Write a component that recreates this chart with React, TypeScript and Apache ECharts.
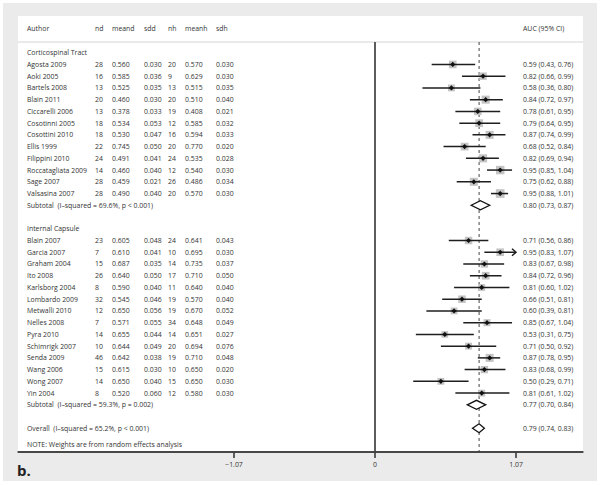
import React, { useEffect, useRef } from "react";
import * as echarts from "echarts";

// ---------- data ----------
const cstAuthors = ["Agosta 2009", "Aoki 2005", "Bartels 2008", "Blain 2011", "Ciccarelli 2006", "Cosotinni 2005", "Cosottini 2010", "Ellis 1999", "Filippini 2010", "Roccatagliata 2009", "Sage 2007", "Valsasina 2007"];
const cstNd = [28, 16, 13, 20, 13, 18, 18, 22, 24, 14, 28, 28];
const cstMeand = ["0.560", "0.585", "0.525", "0.460", "0.378", "0.534", "0.530", "0.745", "0.491", "0.460", "0.459", "0.490"];
const cstSdd = ["0.030", "0.036", "0.035", "0.030", "0.033", "0.053", "0.047", "0.050", "0.041", "0.040", "0.021", "0.040"];
const cstNh = [20, 9, 13, 20, 19, 12, 16, 20, 24, 12, 26, 20];
const cstMeanh = ["0.570", "0.629", "0.515", "0.510", "0.408", "0.585", "0.594", "0.770", "0.535", "0.540", "0.486", "0.570"];
const cstSdh = ["0.030", "0.030", "0.035", "0.040", "0.021", "0.032", "0.033", "0.020", "0.028", "0.030", "0.034", "0.030"];
const cstAuc = [0.59, 0.82, 0.58, 0.84, 0.78, 0.79, 0.87, 0.68, 0.82, 0.95, 0.75, 0.95];
const cstLo = [0.43, 0.66, 0.36, 0.72, 0.61, 0.64, 0.74, 0.52, 0.69, 0.85, 0.62, 0.88];
const cstHi = [0.76, 0.99, 0.80, 0.97, 0.95, 0.95, 0.99, 0.84, 0.94, 1.04, 0.88, 1.01];
const cstWeight = [8.0, 7.6, 6.4, 8.9, 7.8, 8.2, 8.8, 8.1, 9.0, 9.8, 8.9, 10.4];
const cstSubtotal = { label: "Subtotal  (I\u2013squared = 69.6%, p < 0.001)", est: 0.80, lo: 0.73, hi: 0.87 };

const icAuthors = ["Blain 2007", "Garcia 2007", "Graham 2004", "Ito 2008", "Karlsborg 2004", "Lombardo 2009", "Metwalli 2010", "Nelles 2008", "Pyra 2010", "Schimrigk 2007", "Senda 2009", "Wang 2006", "Wong 2007", "Yin 2004"];
const icNd = [23, 7, 15, 26, 8, 32, 12, 7, 14, 10, 46, 15, 14, 8];
const icMeand = ["0.605", "0.610", "0.687", "0.640", "0.590", "0.545", "0.650", "0.571", "0.655", "0.644", "0.642", "0.615", "0.650", "0.520"];
const icSdd = ["0.048", "0.041", "0.035", "0.050", "0.040", "0.046", "0.056", "0.055", "0.044", "0.049", "0.038", "0.030", "0.040", "0.060"];
const icNh = [24, 10, 14, 17, 11, 19, 19, 34, 14, 20, 19, 10, 15, 12];
const icMeanh = ["0.641", "0.695", "0.735", "0.710", "0.640", "0.570", "0.670", "0.648", "0.651", "0.694", "0.710", "0.650", "0.650", "0.580"];
const icSdh = ["0.043", "0.030", "0.037", "0.050", "0.040", "0.040", "0.052", "0.049", "0.027", "0.076", "0.048", "0.020", "0.030", "0.030"];
const icAuc = [0.71, 0.95, 0.83, 0.84, 0.81, 0.66, 0.60, 0.85, 0.53, 0.71, 0.87, 0.83, 0.50, 0.81];
const icLo = [0.56, 0.83, 0.67, 0.72, 0.60, 0.51, 0.39, 0.67, 0.31, 0.50, 0.78, 0.68, 0.29, 0.61];
const icHi = [0.86, 1.07, 0.98, 0.96, 1.02, 0.81, 0.81, 1.04, 0.75, 0.92, 0.95, 0.99, 0.71, 1.02];
const icWeight = [7.6, 7.9, 7.4, 8.0, 6.4, 7.8, 6.3, 6.8, 6.0, 6.6, 8.8, 7.4, 6.4, 6.4];
const icSubtotal = { label: "Subtotal  (I\u2013squared = 59.3%, p = 0.002)", est: 0.77, lo: 0.70, hi: 0.84 };

const overall = { label: "Overall  (I\u2013squared = 65.2%, p < 0.001)", est: 0.79, lo: 0.74, hi: 0.83 };

const headers = ["Author", "nd", "meand", "sdd", "nh", "meanh", "sdh"];
const aucHeader = "AUC (95% CI)";
const groupNames = ["Corticospinal Tract", "Internal Capsule"];
const note = "NOTE: Weights are from random effects analysis";
const xTicks = [-1.07, 0, 1.07];
const nullValue = 0;

// ---------- layout ----------
const PX_ZERO = 375; // page px of x = 0
const PPU = 131.78; // px per unit
const GRID_L = 18, GRID_R = 583, GRID_T = 16, GRID_B = 452;
const X_MIN = (GRID_L - PX_ZERO) / PPU;
const X_MAX = (GRID_R - PX_ZERO) / PPU;
const ROW0_Y = 52.7, ROW_H = 11.7375;
const Y_MIN = -(ROW0_Y - GRID_T) / ROW_H;
const Y_MAX = Y_MIN + (GRID_B - GRID_T) / ROW_H;
const HEADER_ROW = (28.3 - ROW0_Y) / ROW_H;
const HEADER_LINE_ROW = (42 - ROW0_Y) / ROW_H;
const NOTE_ROW = (444.3 - ROW0_Y) / ROW_H;
const colX = (px: number) => (px - PX_ZERO) / PPU;
const COLS = [27, 95, 112, 144, 168, 185, 216].map(colX);
const AUC_COL = colX(523);
const ARROW_AT = 1.07;
const FONT = "Open Sans";
const FS = 6.9;
const TXT = "#333333";

const f2 = (v: number) => v.toFixed(2);
const ci = (e: number, l: number, h: number) => `${f2(e)} (${f2(l)}, ${f2(h)})`;

type TextRow = { row: number; cells: { x: number; text: string }[] };
const textRows: TextRow[] = [];
const studyData: number[][] = [];
const pooledData: number[][] = [];

textRows.push({ row: HEADER_ROW, cells: [...headers.map((h, i) => ({ x: COLS[i], text: h })), { x: AUC_COL, text: aucHeader }] });

function addGroup(start: number, name: string, authors: string[], nd: number[], meand: string[], sdd: string[], nh: number[], meanh: string[], sdh: string[], auc: number[], lo: number[], hi: number[], w: number[], sub: { label: string; est: number; lo: number; hi: number }) {
  textRows.push({ row: start, cells: [{ x: COLS[0], text: name }] });
  authors.forEach((a, i) => {
    const r = start + 1 + i;
    const vals = [a, String(nd[i]), meand[i], sdd[i], String(nh[i]), meanh[i], sdh[i]];
    textRows.push({ row: r, cells: [...vals.map((t, k) => ({ x: COLS[k], text: t })), { x: AUC_COL, text: ci(auc[i], lo[i], hi[i]) }] });
    studyData.push([r, auc[i], lo[i], hi[i], w[i]]);
  });
  const sr = start + 1 + authors.length;
  textRows.push({ row: sr, cells: [{ x: COLS[0], text: sub.label }, { x: AUC_COL, text: ci(sub.est, sub.lo, sub.hi) }] });
  pooledData.push([sr, sub.est, sub.lo, sub.hi]);
  return sr;
}

const end1 = addGroup(0, groupNames[0], cstAuthors, cstNd, cstMeand, cstSdd, cstNh, cstMeanh, cstSdh, cstAuc, cstLo, cstHi, cstWeight, cstSubtotal);
const end2 = addGroup(end1 + 2, groupNames[1], icAuthors, icNd, icMeand, icSdd, icNh, icMeanh, icSdh, icAuc, icLo, icHi, icWeight, icSubtotal);
const overallRow = end2 + 2;
textRows.push({ row: overallRow, cells: [{ x: COLS[0], text: overall.label }, { x: AUC_COL, text: ci(overall.est, overall.lo, overall.hi) }] });
pooledData.push([overallRow, overall.est, overall.lo, overall.hi]);
textRows.push({ row: NOTE_ROW, cells: [{ x: COLS[0], text: note }] });

// ---------- component ----------
const OX = 3, OY = 3, CW = 594, CH = 478;

export default function App() {
  const ref = useRef<HTMLDivElement>(null);
  useEffect(() => {
    if (!ref.current) return;
    const chart = echarts.init(ref.current, undefined, { renderer: "svg" });
    const option: any = {
      animation: false,
      backgroundColor: "transparent",
      grid: {
        left: GRID_L - OX,
        top: GRID_T - OY,
        width: GRID_R - GRID_L,
        height: GRID_B - GRID_T,
        show: false,
      },
      xAxis: {
        type: "value",
        min: X_MIN,
        max: X_MAX,
        splitLine: { show: false },
        axisLine: { show: true, onZero: false, lineStyle: { color: "#3c3c3c", width: 1.5 } },
        axisTick: { show: false },
        axisLabel: {
          show: true,
          customValues: xTicks,
          formatter: (v: number) => (v === 0 ? "0" : v < 0 ? "\u22121.07" : "1.07"),
          fontSize: FS,
          fontFamily: FONT,
          color: TXT,
          margin: 9,
        },
      },
      yAxis: {
        type: "value",
        inverse: true,
        min: Y_MIN,
        max: Y_MAX,
        show: false,
      },
      series: [
        {
          type: "line",
          name: "header rule",
          data: [[X_MIN, HEADER_LINE_ROW], [X_MAX, HEADER_LINE_ROW]],
          symbol: "none",
          z: 2,
          lineStyle: { color: "#d4d4d4", width: 1 },
        },
        {
          type: "line",
          name: "null line",
          data: [[nullValue, HEADER_LINE_ROW], [nullValue, Y_MAX]],
          symbol: "none",
          z: 3,
          lineStyle: { color: "#5c5c5c", width: 2 },
        },
        {
          type: "line",
          name: "overall line",
          data: [[overall.est, HEADER_LINE_ROW], [overall.est, Y_MAX]],
          symbol: "none",
          z: 3,
          lineStyle: { color: "#444444", width: 1, type: [3, 3] },
        },
        {
          type: "custom",
          name: "studies",
          data: studyData,
          z: 5,
          renderItem: (params: any, api: any) => {
            const row = api.value(0), est = api.value(1), lo = api.value(2), hi = api.value(3), w = api.value(4);
            const [xe, y] = api.coord([est, row]);
            const xl = api.coord([lo, row])[0];
            const xh = api.coord([hi, row])[0];
            const s = 2.7 * Math.sqrt(w);
            const d = 2.6;
            const children: any[] = [
              { type: "rect", shape: { x: xe - s / 2, y: y - s / 2, width: s, height: s }, style: { fill: "#c4c4c4" } },
              { type: "line", shape: { x1: xl, y1: y, x2: xh, y2: y }, style: { stroke: "#1e1e1e", lineWidth: 1.5 } },
              { type: "polygon", shape: { points: [[xe - d, y], [xe, y - d], [xe + d, y], [xe, y + d]] }, style: { fill: "#111111" } },
            ];
            if (hi >= ARROW_AT) {
              children.push({ type: "polyline", shape: { points: [[xh - 4, y - 3.5], [xh, y], [xh - 4, y + 3.5]] }, style: { stroke: "#1e1e1e", lineWidth: 1.5, fill: "none" } });
            }
            return { type: "group", children };
          },
        },
        {
          type: "custom",
          name: "pooled",
          data: pooledData,
          z: 6,
          renderItem: (params: any, api: any) => {
            const row = api.value(0), est = api.value(1), lo = api.value(2), hi = api.value(3);
            const [xe, y] = api.coord([est, row]);
            const xl = api.coord([lo, row])[0];
            const xh = api.coord([hi, row])[0];
            const h = 4.5;
            return {
              type: "polygon",
              shape: { points: [[xl, y], [xe, y - h], [xh, y], [xe, y + h]] },
              style: { fill: "#ffffff", stroke: "#111111", lineWidth: 1.3 },
            };
          },
        },
        {
          type: "custom",
          name: "table",
          data: textRows.map((r) => [AUC_COL, r.row]),
          z: 7,
          renderItem: (params: any, api: any) => {
            const tr = textRows[params.dataIndex];
            const y = api.coord([AUC_COL, api.value(1)])[1];
            return {
              type: "group",
              children: tr.cells.map((c) => ({
                type: "text",
                x: api.coord([c.x, 0])[0],
                y,
                style: { text: c.text, fill: TXT, fontSize: FS, fontFamily: FONT, align: "left", verticalAlign: "middle" },
              })),
            };
          },
        },
      ],
    };
    chart.setOption(option);

    // frame marks placed through the chart's own scales
    const toPx = (x: number, y: number) => chart.convertToPixel({ gridIndex: 0 }, [x, y]) as number[];
    const nTop = toPx(nullValue, HEADER_LINE_ROW);
    const nBot = toPx(nullValue, Y_MAX);
    const aL = toPx(X_MIN, Y_MAX);
    const aR = toPx(X_MAX, Y_MAX);
    const graphics: any[] = [
      { type: "text", left: 14, top: 459, style: { text: "b.", font: `bold 15px ${FONT}`, fill: "#222222" } },
      { type: "line", z: 50, shape: { x1: nTop[0], y1: nTop[1], x2: nBot[0], y2: nBot[1] }, style: { stroke: "#5c5c5c", lineWidth: 2 } },
      { type: "line", z: 50, shape: { x1: aL[0], y1: aL[1], x2: aR[0], y2: aR[1] }, style: { stroke: "#3c3c3c", lineWidth: 1.5 } },
      ...xTicks.map((t) => {
        const p = toPx(t, Y_MAX);
        return { type: "line", z: 50, shape: { x1: p[0], y1: p[1], x2: p[0], y2: p[1] + 6 }, style: { stroke: "#3c3c3c", lineWidth: 1.6 } };
      }),
    ];
    chart.setOption({ graphic: graphics });
    return () => chart.dispose();
  }, []);
  return (
    <div style={{ position: "absolute", left: 0, top: 0, width: 600, height: 485, background: "#fff" }}>
      <div style={{ position: "absolute", left: OX, top: OY, width: CW, height: CH, background: "#ebebeb" }} />
      <div style={{ position: "absolute", left: GRID_L, top: GRID_T, width: GRID_R - GRID_L, height: GRID_B - GRID_T, background: "#fff" }} />
      <div ref={ref} style={{ position: "absolute", left: OX, top: OY, width: CW, height: CH }} />
    </div>
  );
}
